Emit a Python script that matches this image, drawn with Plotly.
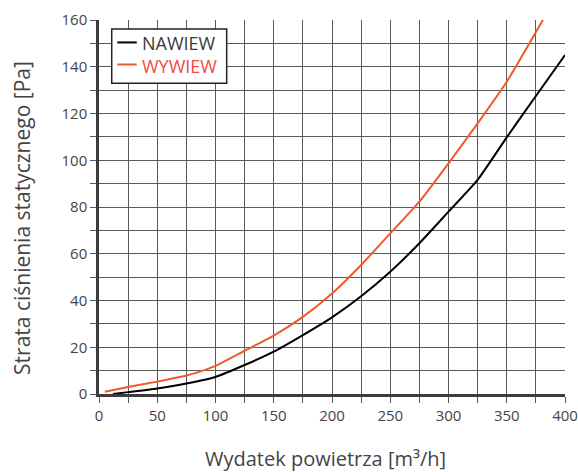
import plotly.graph_objects as go

# Data
nawiew_x = [12, 25, 50, 75, 100, 125, 150, 175, 200, 225, 250, 275, 300, 325, 350, 375, 400]
nawiew_y = [0, 0.8, 2.4, 4.5, 7.3, 12.4, 18.1, 25.2, 32.8, 41.8, 52.3, 64.5, 78, 91.6, 109.8, 127.5, 145]

wywiew_x = [5, 25, 50, 75, 88, 100, 125, 150, 175, 200, 225, 250, 275, 300, 325, 350, 381]
wywiew_y = [1, 3, 5.3, 7.9, 9.8, 12, 18.5, 25, 33, 43, 55.2, 68.7, 82.3, 98.7, 115.8, 133.6, 160]

series_names = ["NAWIEW", "WYWIEW"]
line_colors = ["#000000", "#ef5a2a"]
text_colors = ["#3a3a3a", "#ef4a45"]

x_title = "Wydatek powietrza [m³/h]"
y_title = "Strata ciśnienia statycznego [Pa]"

FONT = "Open Sans, Noto Sans, sans-serif"
GRID = "#5a5a5a"

fig = go.Figure()
fig.add_trace(go.Scatter(x=nawiew_x, y=nawiew_y, mode="lines", name=series_names[0],
                         line=dict(color=line_colors[0], width=2, shape="spline", smoothing=0.5)))
fig.add_trace(go.Scatter(x=wywiew_x, y=wywiew_y, mode="lines", name=series_names[1],
                         line=dict(color=line_colors[1], width=2, shape="spline", smoothing=0.5)))

axis_common = dict(showline=True, linecolor="#3c3c3c", linewidth=2.5,
                   showgrid=True, gridcolor=GRID, gridwidth=1.3,
                   ticks="outside", ticklen=6, tickwidth=1.3, tickcolor=GRID,
                   tickfont=dict(family=FONT, size=15, color="#444"),
                   zeroline=False, automargin=False)

fig.update_xaxes(range=[0, 400], dtick=50, tick0=0,
                 minor=dict(dtick=25, showgrid=True, gridcolor=GRID, gridwidth=1.3,
                            ticks="outside", ticklen=6, tickwidth=1.3, tickcolor=GRID),
                 **axis_common)
fig.update_yaxes(range=[0, 160], dtick=20, tick0=0,
                 minor=dict(dtick=10, showgrid=True, gridcolor=GRID, gridwidth=1.3,
                            ticks="outside", ticklen=6, tickwidth=1.3, tickcolor=GRID),
                 **axis_common)

# Axis titles as annotations (placed slightly off the domain centre, as in the reference)
fig.add_annotation(xref="paper", yref="paper", x=0.487, y=-0.173, xanchor="center", yanchor="middle",
                   text=x_title, showarrow=False, font=dict(family=FONT, size=20, color="#444"))
fig.add_annotation(xref="paper", yref="paper", x=-0.165, y=0.471, xanchor="center", yanchor="middle",
                   text=y_title, textangle=-90, showarrow=False,
                   font=dict(family=FONT, size=21, color="#444"))

# Legend drawn as a boxed key in the upper-left corner (paper coordinates)
legend_box = dict(x0=0.0273, x1=0.274, y0=0.831, y1=0.976)
legend_rows_y = [0.940, 0.881]
fig.add_shape(type="rect", xref="paper", yref="paper", layer="above",
              fillcolor="white", line=dict(color="#222", width=1.5), **legend_box)
for lc, ry in zip(line_colors, legend_rows_y):
    fig.add_shape(type="line", xref="paper", yref="paper", layer="above",
                  x0=0.0393, x1=0.081, y0=ry, y1=ry, line=dict(color=lc, width=2))
legend_text = "<br>".join(f"<span style='color:{tc}'>{n}</span>"
                          for n, tc in zip(series_names, text_colors))
fig.add_annotation(xref="paper", yref="paper", x=0.088, y=0.909, xanchor="left", yanchor="middle",
                   align="left", text=legend_text, showarrow=False,
                   font=dict(family=FONT, size=18, color="#3a3a3a"))

fig.update_layout(
    width=578, height=472,
    margin=dict(l=99, r=13, t=20, b=78),
    plot_bgcolor="white", paper_bgcolor="white",
    font=dict(family=FONT, color="#444"),
    showlegend=False,
)

fig.write_html("out.html")
